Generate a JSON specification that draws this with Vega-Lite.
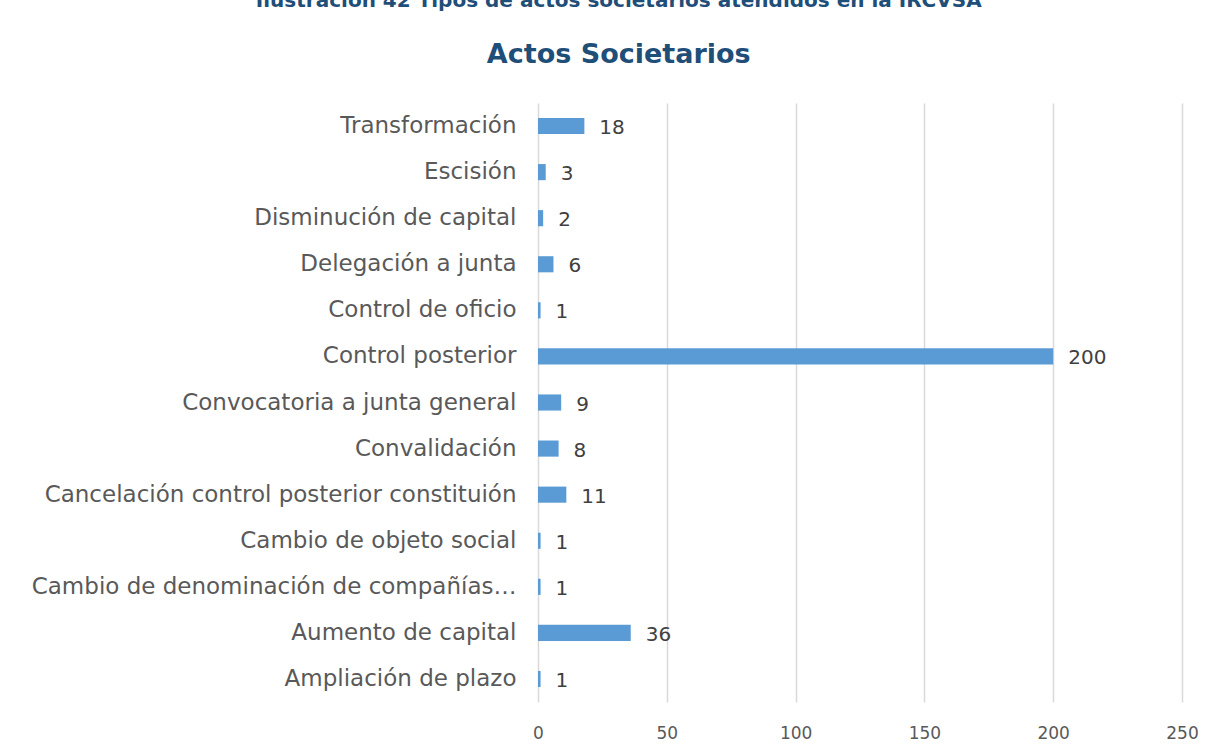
{
  "$schema": "https://vega.github.io/schema/vega-lite/v6.json",
  "width": 644,
  "height": 599,
  "autosize": {"type": "none"},
  "padding": {"left": 538, "top": 103, "right": 43, "bottom": 54},
  "background": "white",
  "title": {
    "text": "Ilustración 42 Tipos de actos societarios atendidos en la IRCVSA",
    "subtitle": "Actos Societarios",
    "anchor": "middle",
    "frame": "bounds",
    "dx": 4,
    "font": "DejaVu Sans",
    "fontSize": 20,
    "fontWeight": "bold",
    "color": "#1F4E79",
    "subtitleFont": "DejaVu Sans",
    "subtitleFontSize": 27,
    "subtitleFontWeight": "bold",
    "subtitleColor": "#1F4E79",
    "subtitlePadding": 31,
    "offset": 35
  },
  "data": {
    "values": [
      {"acto": "Transformación", "cantidad": 18},
      {"acto": "Escisión", "cantidad": 3},
      {"acto": "Disminución de capital", "cantidad": 2},
      {"acto": "Delegación a junta", "cantidad": 6},
      {"acto": "Control de oficio", "cantidad": 1},
      {"acto": "Control posterior", "cantidad": 200},
      {"acto": "Convocatoria a junta general", "cantidad": 9},
      {"acto": "Convalidación", "cantidad": 8},
      {"acto": "Cancelación control posterior constituión", "cantidad": 11},
      {"acto": "Cambio de objeto social", "cantidad": 1},
      {"acto": "Cambio de denominación de compañías extranjeras", "cantidad": 1},
      {"acto": "Aumento de capital", "cantidad": 36},
      {"acto": "Ampliación de plazo", "cantidad": 1}
    ]
  },
  "encoding": {
    "y": {
      "field": "acto",
      "type": "nominal",
      "sort": null,
      "scale": {"paddingInner": 0.65, "paddingOuter": 0.325},
      "axis": {
        "title": null,
        "ticks": false,
        "domain": false,
        "grid": false,
        "labelFont": "DejaVu Sans",
        "labelFontSize": 23,
        "labelColor": "#595959",
        "labelPadding": 22,
        "labelLimit": 488
      }
    },
    "x": {
      "field": "cantidad",
      "type": "quantitative",
      "scale": {"domain": [0, 250], "nice": false},
      "axis": {
        "title": null,
        "values": [0, 50, 100, 150, 200, 250],
        "ticks": false,
        "domain": false,
        "grid": true,
        "gridColor": "#D9D9D9",
        "gridWidth": 1.5,
        "labelFlush": false,
        "labelFont": "DejaVu Sans",
        "labelFontSize": 17,
        "labelColor": "#595959",
        "labelPadding": 23
      }
    }
  },
  "layer": [
    {"mark": {"type": "bar", "color": "#5B9BD5"}},
    {
      "mark": {
        "type": "text",
        "align": "left",
        "baseline": "middle",
        "dx": 15,
        "dy": 2,
        "font": "DejaVu Sans",
        "fontSize": 20,
        "color": "#404040"
      },
      "encoding": {"text": {"field": "cantidad", "type": "quantitative"}}
    }
  ],
  "config": {"view": {"stroke": null}}
}
